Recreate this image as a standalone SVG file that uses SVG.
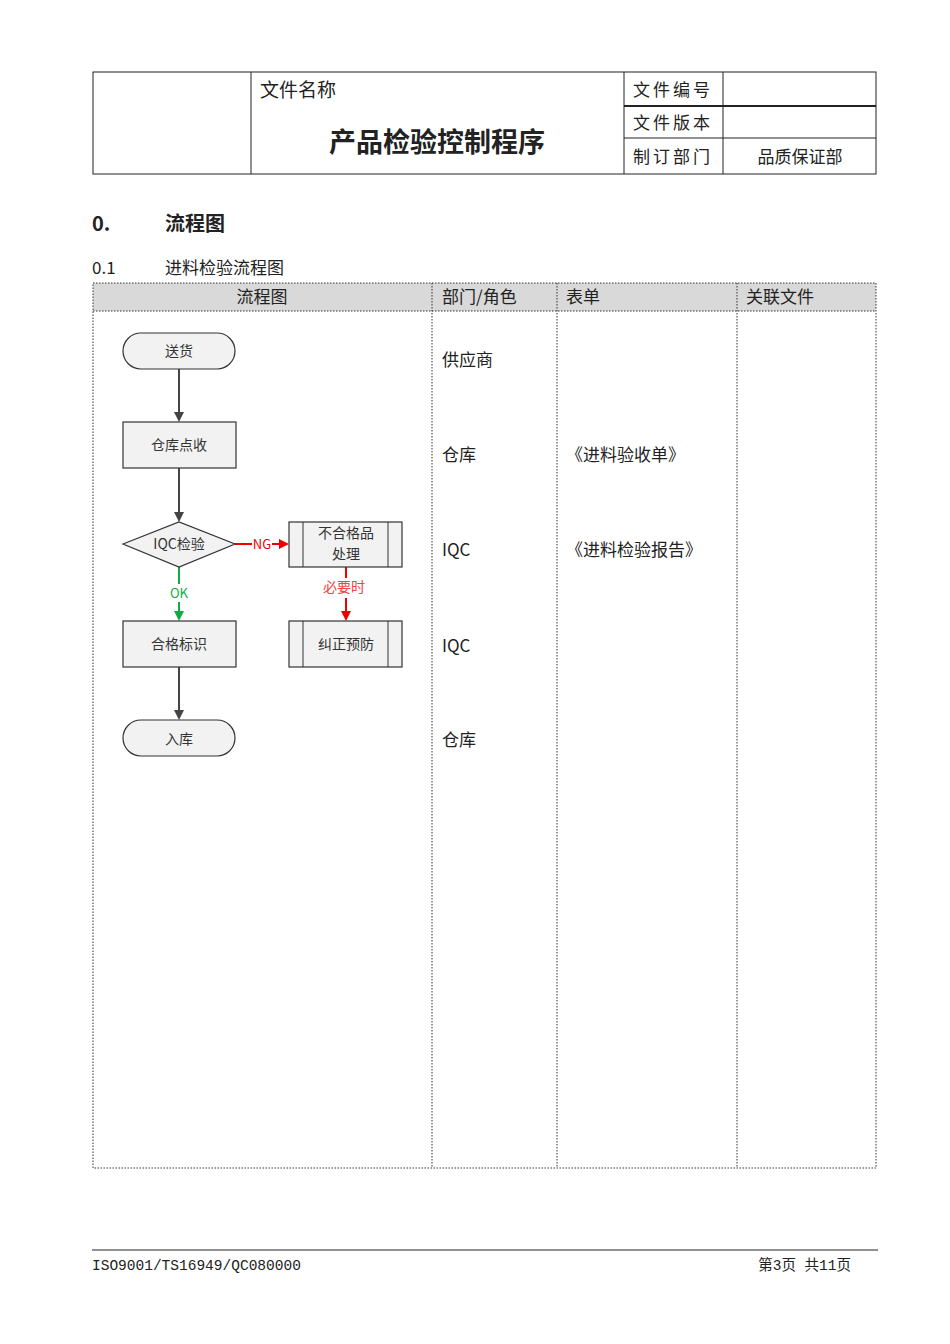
<svg xmlns="http://www.w3.org/2000/svg" width="950" height="1344" viewBox="0 0 950 1344">
<defs>
<style>
text{font-family:"Noto Sans CJK SC","Liberation Sans",sans-serif;fill:#222}
.h{font-size:19px}
.t{font-size:17px}
.n{font-size:14px;text-anchor:middle;fill:#333}
.box{fill:#f2f2f2;stroke:#333;stroke-width:1.2}
.dot{stroke:#333;stroke-width:1;stroke-dasharray:1.5 1.5;fill:none}
.ln{stroke:#444;stroke-width:2;fill:none}
.ft{font-size:14.5px;font-family:"Liberation Mono","Noto Sans CJK SC",monospace}
</style>
<marker id="ak" markerWidth="10" markerHeight="10" refX="8" refY="5" orient="auto" markerUnits="userSpaceOnUse"><path d="M0,0L10,5L0,10z" fill="#444"/></marker>
<marker id="ar" markerWidth="10" markerHeight="10" refX="8" refY="5" orient="auto" markerUnits="userSpaceOnUse"><path d="M0,0L10,5L0,10z" fill="#e00"/></marker>
<marker id="ag" markerWidth="10" markerHeight="10" refX="8" refY="5" orient="auto" markerUnits="userSpaceOnUse"><path d="M0,0L10,5L0,10z" fill="#1a4"/></marker>
</defs>
<rect width="950" height="1344" fill="#fff"/>
<g id="header" fill="none" stroke="#222" stroke-width="1">
<rect x="93" y="72" width="783" height="102"/>
<line x1="251" y1="72" x2="251" y2="174"/>
<line x1="624" y1="72" x2="624" y2="174"/>
<line x1="723" y1="72" x2="723" y2="174"/>
<line x1="624" y1="106" x2="876" y2="106" stroke-width="2"/>
<line x1="624" y1="138" x2="876" y2="138"/>
</g>
<text x="260" y="97" class="h">文件名称</text>
<text x="437" y="152" font-size="27" font-weight="bold" text-anchor="middle">产品检验控制程序</text>
<text x="633" y="96" class="t" letter-spacing="3">文件编号</text>
<text x="633" y="129" class="t" letter-spacing="3">文件版本</text>
<text x="633" y="163" class="t" letter-spacing="3">制订部门</text>
<text x="800" y="163" class="t" text-anchor="middle">品质保证部</text>
<text x="92" y="231" font-size="20" font-weight="bold">0.</text>
<text x="165" y="231" font-size="20" font-weight="bold">流程图</text>
<text x="92" y="274" class="t">0.1</text>
<text x="165" y="274" class="t">进料检验流程图</text>
<g id="table">
<rect x="93" y="283" width="783" height="28" fill="#d9d9d9"/>
<rect x="93" y="283" width="783" height="885" class="dot"/>
<line x1="93" y1="311" x2="876" y2="311" class="dot"/>
<line x1="432" y1="283" x2="432" y2="1168" class="dot"/>
<line x1="557" y1="283" x2="557" y2="1168" class="dot"/>
<line x1="737" y1="283" x2="737" y2="1168" class="dot"/>
</g>
<text x="262" y="303" class="t" text-anchor="middle">流程图</text>
<text x="442" y="303" class="t">部门/角色</text>
<text x="566" y="303" class="t">表单</text>
<text x="746" y="303" class="t">关联文件</text>
<text x="442" y="366" class="t">供应商</text>
<text x="442" y="461" class="t">仓库</text>
<text x="442" y="556" class="t">IQC</text>
<text x="442" y="652" class="t">IQC</text>
<text x="442" y="746" class="t">仓库</text>
<text x="566" y="461" class="t">《进料验收单》</text>
<text x="566" y="556" class="t">《进料检验报告》</text>
<g id="connectors" fill="none" stroke-width="2">
<line x1="179" y1="369" x2="179" y2="420" class="ln" marker-end="url(#ak)"/>
<line x1="179" y1="468" x2="179" y2="520" class="ln" marker-end="url(#ak)"/>
<line x1="179" y1="567" x2="179" y2="584" stroke="#1a4"/>
<line x1="179" y1="602" x2="179" y2="619" stroke="#1a4" marker-end="url(#ag)"/>
<line x1="179" y1="667" x2="179" y2="718" class="ln" marker-end="url(#ak)"/>
<line x1="235" y1="544" x2="252" y2="544" stroke="#e00"/>
<line x1="272" y1="544" x2="287" y2="544" stroke="#e00" marker-end="url(#ar)"/>
<line x1="346" y1="567" x2="346" y2="578" stroke="#e00"/>
<line x1="346" y1="598" x2="346" y2="619" stroke="#e00" marker-end="url(#ar)"/>
</g>
<text x="179" y="598" font-size="13" text-anchor="middle" style="fill:#1a4">OK</text>
<text x="262" y="549" font-size="13" text-anchor="middle" style="fill:#e00">NG</text>
<text x="344" y="592" font-size="14" text-anchor="middle" style="fill:#e44">必要时</text>
<g id="n1"><rect x="123" y="333" width="112" height="36" rx="18" class="box"/><text x="179" y="356" class="n">送货</text></g>
<g id="n2"><rect x="123" y="422" width="113" height="46" class="box"/><text x="179" y="450" class="n">仓库点收</text></g>
<g id="n3"><polygon points="123,544 179,522 235,544 179,567" class="box"/><text x="179" y="549" class="n">IQC检验</text></g>
<g id="n4"><rect x="289" y="522" width="113" height="45" class="box"/><line x1="303" y1="522" x2="303" y2="567" stroke="#333"/><line x1="388" y1="522" x2="388" y2="567" stroke="#333"/><text x="346" y="538" class="n">不合格品</text><text x="346" y="559" class="n">处理</text></g>
<g id="n5"><rect x="123" y="621" width="113" height="46" class="box"/><text x="179" y="649" class="n">合格标识</text></g>
<g id="n6"><rect x="289" y="621" width="113" height="46" class="box"/><line x1="303" y1="621" x2="303" y2="667" stroke="#333"/><line x1="388" y1="621" x2="388" y2="667" stroke="#333"/><text x="346" y="649" class="n">纠正预防</text></g>
<g id="n7"><rect x="123" y="720" width="112" height="36" rx="18" class="box"/><text x="179" y="744" class="n">入库</text></g>
<line x1="92" y1="1250" x2="878" y2="1250" stroke="#222"/>
<text x="92" y="1270" class="ft">ISO9001/TS16949/QC080000</text>
<text x="851" y="1270" class="ft" text-anchor="end">第3页  共11页</text>
</svg>
